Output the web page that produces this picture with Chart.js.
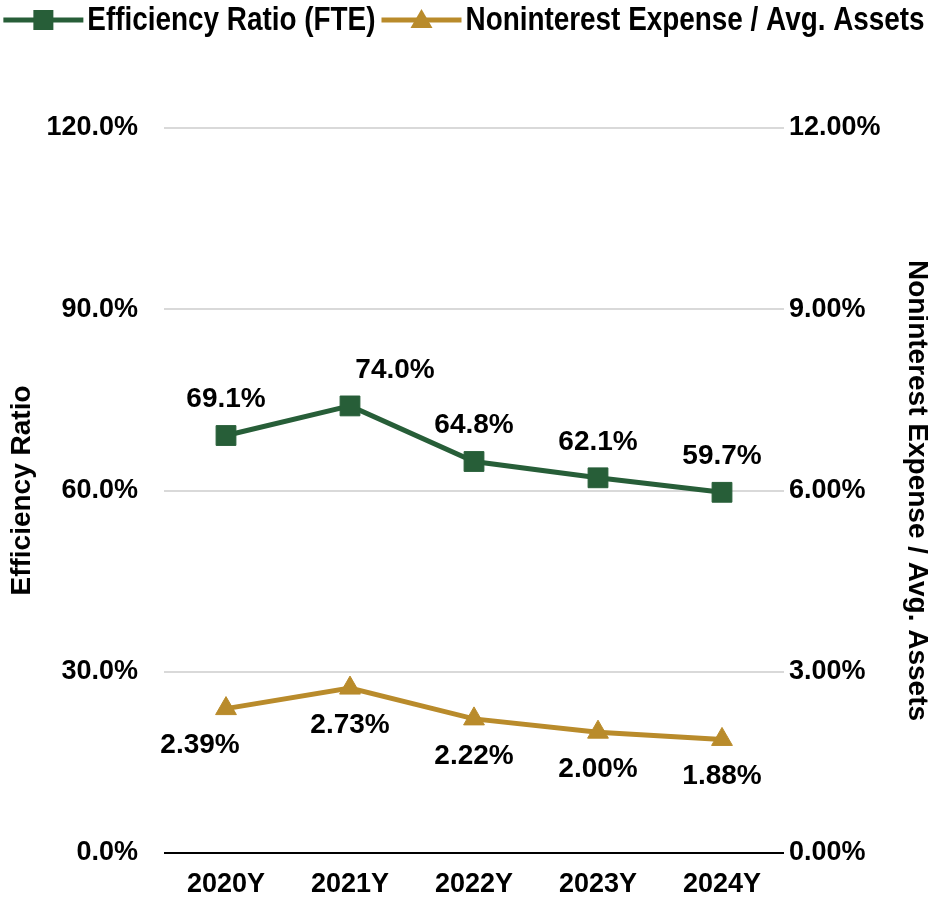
<!DOCTYPE html>
<html>
<head>
<meta charset="utf-8">
<script src="https://cdn.jsdelivr.net/npm/chart.js@4.4.1/dist/chart.umd.min.js"></script>
<style>
  body { margin: 0; background: #fff; }
</style>
</head>
<body>
<canvas id="effChart" width="928" height="900"></canvas>
<script>
var years = ["2020Y", "2021Y", "2022Y", "2023Y", "2024Y"];
var efficiencyRatio = [69.1, 74.0, 64.8, 62.1, 59.7];
var nonintExpense = [2.39, 2.73, 2.22, 2.00, 1.88];
var leftTicks = [0, 30, 60, 90, 120];
var rightTicks = [0, 3, 6, 9, 12];

const green = "#275E38";
const gold = "#B98B2B";
const family = "'Liberation Sans', Arial, sans-serif";

// where each value label sits relative to its point
const labelNudge = [
  { dy: -36, dx: [0, 45, 0, 0, 0] },
  { dy: 37, dx: [-26, 0, 0, 0, 0] }
];

//value labels above / below the points
const valueLabels = {
  id: "valueLabels",
  afterDatasetsDraw(chart) {
    const ctx = chart.ctx;
    ctx.save();
    ctx.font = "bold 28px " + family;
    ctx.fillStyle = "#000";
    ctx.textAlign = "center";
    ctx.textBaseline = "middle";
    chart.data.datasets.forEach((ds, i) => {
      const nudge = labelNudge[i];
      chart.getDatasetMeta(i).data.forEach((pt, j) => {
        const txt = ds.data[j].toFixed(ds.digits) + "%";
        ctx.fillText(txt, pt.x + nudge.dx[j], pt.y + nudge.dy);
      });
    });
    ctx.restore();
  }
};

//legend with line + marker icons, condensed bold text
const topLegend = {
  id: "topLegend",
  afterDraw(chart) {
    const ctx = chart.ctx;
    const iconW = 80, gap = 4, itemGap = 6, y = 20, squeeze = 0.82;
    ctx.save();
    ctx.font = "bold 34px " + family;
    ctx.textBaseline = "middle";
    ctx.textAlign = "left";
    const items = chart.data.datasets.map(ds => {
      const tw = ctx.measureText(ds.label).width * squeeze;
      return { ds: ds, tw: tw, w: iconW + gap + tw };
    });
    let total = items.reduce((s, it) => s + it.w, 0) + itemGap * (items.length - 1);
    let x = (chart.width - total) / 2;
    items.forEach(it => {
      const c = it.ds.borderColor;
      ctx.strokeStyle = c;
      ctx.fillStyle = c;
      ctx.lineWidth = 5;
      ctx.beginPath();
      ctx.moveTo(x, y);
      ctx.lineTo(x + iconW, y);
      ctx.stroke();
      const cx = x + iconW / 2;
      if (it.ds.pointStyle === "rect") {
        ctx.fillRect(cx - 10, y - 10, 20, 20);
      } else {
        ctx.beginPath();
        ctx.moveTo(cx, y - 11);
        ctx.lineTo(cx + 11, y + 8);
        ctx.lineTo(cx - 11, y + 8);
        ctx.closePath();
        ctx.fill();
      }
      ctx.save();
      ctx.translate(x + iconW + gap, y + 1);
      ctx.scale(squeeze, 1);
      ctx.fillStyle = "#000";
      ctx.fillText(it.ds.label, 0, 0);
      ctx.restore();
      x += it.w + itemGap;
    });
    ctx.restore();
  }
};

const tickFont = { family: family, size: 27, weight: "bold" };
const titleFont = { family: family, size: 28, weight: "bold" };

new Chart("effChart", {
  type: "line",
  data: {
    labels: years,
    datasets: [{
      label: "Efficiency Ratio (FTE)",
      data: efficiencyRatio,
      digits: 1,
      yAxisID: "y",
      borderColor: green,
      backgroundColor: green,
      borderWidth: 5,
      pointStyle: "rect",
      pointRadius: 14,
      pointHoverRadius: 14,
      pointBackgroundColor: green,
      pointBorderColor: green,
      pointBorderWidth: 1,
      tension: 0
    }, {
      label: "Noninterest Expense / Avg. Assets",
      data: nonintExpense,
      digits: 2,
      yAxisID: "y1",
      borderColor: gold,
      backgroundColor: gold,
      borderWidth: 5,
      pointStyle: "triangle",
      pointRadius: 12,
      pointHoverRadius: 12,
      pointBackgroundColor: gold,
      pointBorderColor: gold,
      pointBorderWidth: 1,
      tension: 0
    }]
  },
  options: {
    responsive: false,
    animation: false,
    layout: { padding: { top: 128, left: 0, right: 0, bottom: 0 } },
    plugins: {
      legend: { display: false },
      tooltip: { enabled: false },
      title: { display: false }
    },
    scales: {
      x: {
        offset: true,
        grid: { display: false, drawTicks: false },
        border: { display: false },
        ticks: { color: "#000", font: tickFont, padding: 15, maxRotation: 0 },
        afterFit: s => { s.height = 47; }
      },
      y: {
        position: "left",
        min: 0,
        max: 120,
        grid: {
          color: c => c.tick && c.tick.value === 0 ? "#000" : "#D9D9D9",
          lineWidth: 2,
          drawTicks: false
        },
        border: { display: false },
        ticks: { color: "#000", font: tickFont, padding: 26, callback: v => v.toFixed(1) + "%" },
        afterBuildTicks: s => { s.ticks = leftTicks.map(v => ({ value: v })); },
        title: {
          display: true,
          text: "Efficiency Ratio",
          color: "#000",
          font: titleFont,
          padding: { top: 5, bottom: 0 }
        },
        afterFit: s => { s.width = 164; }
      },
      y1: {
        position: "right",
        min: 0,
        max: 12,
        grid: { display: false, drawTicks: false },
        border: { display: false },
        ticks: { color: "#000", font: tickFont, padding: 5, callback: v => v.toFixed(2) + "%" },
        afterBuildTicks: s => { s.ticks = rightTicks.map(v => ({ value: v })); },
        title: {
          display: true,
          text: "Noninterest Expense / Avg. Assets",
          color: "#000",
          font: Object.assign({ lineHeight: 0.8 }, titleFont),
          padding: { top: 0, bottom: 0 }
        },
        afterFit: s => { s.width = 144; }
      }
    }
  },
  plugins: [valueLabels, topLegend]
});
</script>
</body>
</html>
